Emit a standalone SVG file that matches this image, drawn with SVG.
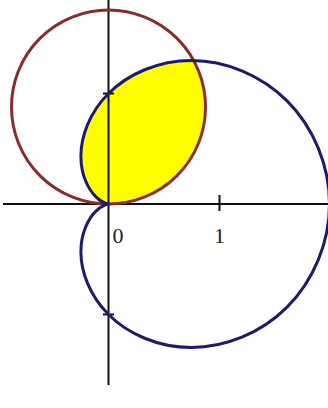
<svg xmlns="http://www.w3.org/2000/svg" width="328" height="408" viewBox="0 0 328 408">
<style>
.axis{stroke:#111;stroke-width:2;fill:none}
.curve{fill:none;stroke-width:3;stroke-linejoin:round}
.lbl{font-family:"Liberation Serif","Times New Roman",serif;font-size:22px;fill:#222;text-anchor:middle}
</style>
<rect width="328" height="408" fill="#ffffff"/>
<g id="region">
<path d="M108.5,204 A97,97 0 0 0 193.6,60.6 L191.38,60.46 C157.98,60.46 127.79,74.21 108.5,93.5 C89.21,112.79 80.88,136.86 80.88,156.15 C80.88,175.44 88.62,189.54 95.68,196.6 C102.74,203.66 108.5,204 108.5,204 Z" fill="#ffff00"/>
</g>
<g id="axes">
<line class="axis" x1="3" y1="204" x2="328" y2="204"/>
<line class="axis" x1="108.5" y1="0" x2="108.5" y2="385"/>
<line class="axis" x1="219.5" y1="195" x2="219.5" y2="211"/>
<line class="axis" x1="103" y1="93.5" x2="114" y2="93.5"/>
<line class="axis" x1="103" y1="314.5" x2="114" y2="314.5"/>
</g>
<g id="labels">
<text class="lbl" x="118" y="243">0</text>
<text class="lbl" x="219.5" y="243">1</text>
</g>
<g id="circle">
<circle class="curve" cx="108.5" cy="107" r="97" stroke="#8b2c2c"/>
</g>
<g id="cardioid">
<path class="curve" stroke="#1c1c6b" d="M329.5,204 C329.5,165.43 313.42,127.25 287.07,100.9 C260.72,74.55 224.78,60.46 191.38,60.46 C157.98,60.46 127.79,74.21 108.5,93.5 C89.21,112.79 80.88,136.86 80.88,156.15 C80.88,175.44 88.62,189.54 95.68,196.6 C102.74,203.66 108.5,204 108.5,204 C108.5,204 102.74,204.34 95.68,211.4 C88.62,218.46 80.88,232.56 80.88,251.85 C80.88,271.14 89.21,295.21 108.5,314.5 C127.79,333.79 157.98,347.54 191.38,347.54 C224.78,347.54 260.72,333.45 287.07,307.1 C313.42,280.75 329.5,242.57 329.5,204 Z"/>
</g>
</svg>
